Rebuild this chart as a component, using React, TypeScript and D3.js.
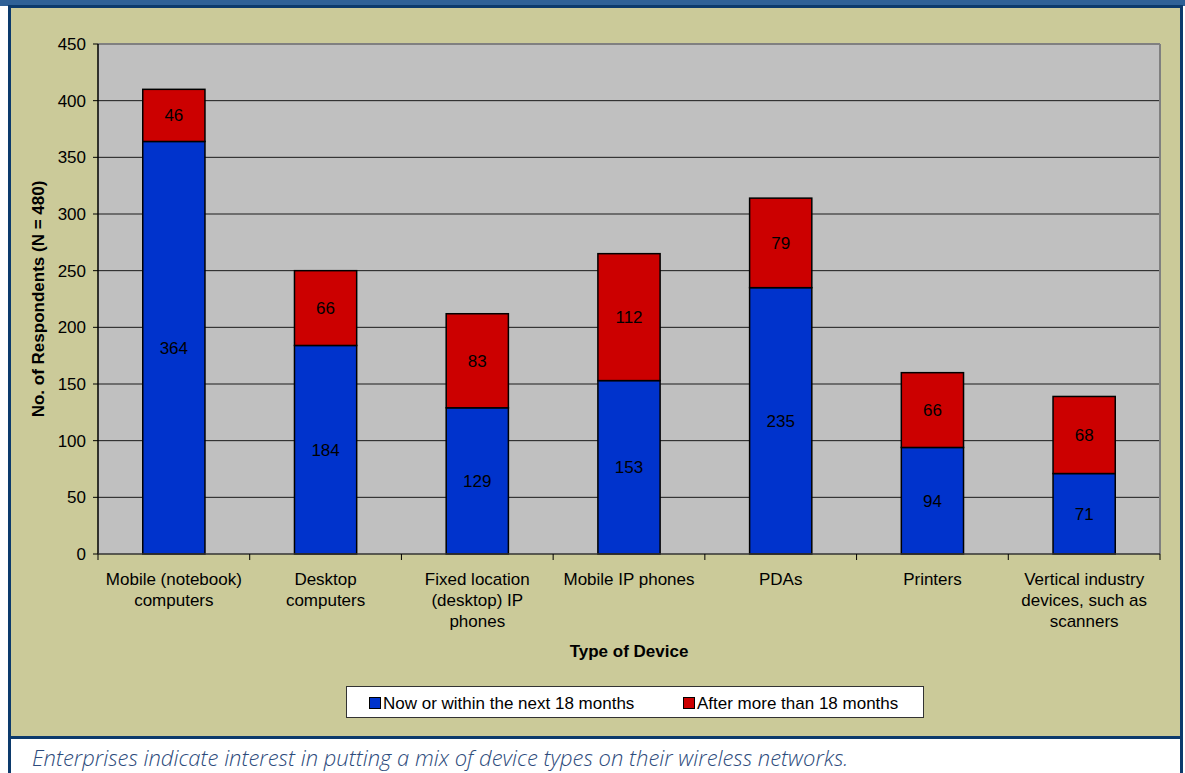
import React from "react";
import * as d3 from "d3";

const categories: string[][] = [
  ["Mobile (notebook)", "computers"],
  ["Desktop", "computers"],
  ["Fixed location", "(desktop) IP", "phones"],
  ["Mobile IP phones"],
  ["PDAs"],
  ["Printers"],
  ["Vertical industry", "devices, such as", "scanners"],
];
const nowValues = [364, 184, 129, 153, 235, 94, 71];
const laterValues = [46, 66, 83, 112, 79, 66, 68];
const seriesNames = ["Now or within the next 18 months", "After more than 18 months"];
const yTicks = [0, 50, 100, 150, 200, 250, 300, 350, 400, 450];

const W = 1185;
const H = 773;
const plot = { left: 98, right: 1160, top: 44, bottom: 554 };
const colors = ["#0033cc", "#cc0000"];
const font = "'Liberation Sans', Arial, sans-serif";
const fs = 17;

export default function App() {
  const idx = categories.map((_, i) => String(i));
  const x = d3.scaleBand<string>().domain(idx).range([plot.left, plot.right]).padding(0);
  const y = d3.scaleLinear().domain([0, 450]).range([plot.bottom, plot.top]);
  const barW = x.step() * 0.41;

  const stacked = d3
    .stack<number>()
    .keys(["now", "later"])
    .value((i, key) => (key === "now" ? nowValues[i] : laterValues[i]))(d3.range(nowValues.length));

  return (
    <svg width={W} height={H} style={{ position: "absolute", left: 0, top: 0 }} fontFamily={font}>
      <rect x={0} y={0} width={W} height={H} fill="#ffffff" />
      {/* header band */}
      <rect x={0} y={0} width={W} height={6} fill="#2f6197" />
      {/* panel */}
      <rect x={9.5} y={6.5} width={1172} height={731} fill="#cbca99" stroke="#0c3a6c" strokeWidth={3} />
      <line x1={9.5} y1={738} x2={9.5} y2={H} stroke="#0c3a6c" strokeWidth={3} />
      <line x1={1181.5} y1={738} x2={1181.5} y2={H} stroke="#0c3a6c" strokeWidth={3} />

      {/* plot area */}
      <rect x={plot.left} y={plot.top} width={plot.right - plot.left} height={plot.bottom - plot.top} fill="#c0c0c0" />
      {yTicks.filter((t) => t > 0 && t < 450).map((t) => (
        <line key={t} x1={plot.left} x2={plot.right} y1={y(t)} y2={y(t)} stroke="#1a1a1a" strokeWidth={1} />
      ))}
      <line x1={plot.left} x2={plot.right} y1={y(450)} y2={y(450)} stroke="#808080" strokeWidth={2} />
      <line x1={plot.right} x2={plot.right} y1={plot.top} y2={plot.bottom} stroke="#808080" strokeWidth={2} />

      {/* bars */}
      {stacked.map((layer, si) =>
        layer.map((seg, i) => {
          const cx = (x(String(i)) as number) + x.step() / 2;
          const y0 = y(seg[0]);
          const y1 = y(seg[1]);
          const v = seg[1] - seg[0];
          return (
            <g key={`${si}-${i}`}>
              <rect x={cx - barW / 2} y={y1} width={barW} height={y0 - y1} fill={colors[si]} stroke="#000" strokeWidth={1.5} />
              <text x={cx} y={(y0 + y1) / 2 + 6} textAnchor="middle" fontSize={fs} fill="#000">
                {v}
              </text>
            </g>
          );
        })
      )}

      {/* axes */}
      <line x1={plot.left} x2={plot.left} y1={plot.top} y2={plot.bottom} stroke="#000" strokeWidth={1.5} />
      <line x1={plot.left} x2={plot.right} y1={plot.bottom} y2={plot.bottom} stroke="#333" strokeWidth={1.5} />
      {yTicks.map((t) => (
        <g key={t}>
          <line x1={plot.left - 5} x2={plot.left} y1={y(t)} y2={y(t)} stroke="#000" />
          <text x={86} y={y(t) + 6} textAnchor="end" fontSize={fs} fill="#000">
            {t}
          </text>
        </g>
      ))}
      {d3.range(categories.length + 1).map((i) => {
        const xx = plot.left + i * x.step();
        return <line key={i} x1={xx} x2={xx} y1={plot.bottom} y2={plot.bottom + 6} stroke="#000" />;
      })}
      {categories.map((lines, i) => {
        const cx = (x(String(i)) as number) + x.step() / 2;
        return (
          <text key={i} textAnchor="middle" fontSize={fs} fill="#000">
            {lines.map((l, j) => (
              <tspan key={j} x={cx} y={585 + j * 21}>
                {l}
              </tspan>
            ))}
          </text>
        );
      })}

      {/* axis titles */}
      <text x={(plot.left + plot.right) / 2} y={657} textAnchor="middle" fontSize={fs} fontWeight="bold" fill="#000">
        Type of Device
      </text>
      <text
        transform={`translate(44, ${(plot.top + plot.bottom) / 2}) rotate(-90)`}
        textAnchor="middle"
        fontSize={fs}
        fontWeight="bold"
        fill="#000"
      >
        No. of Respondents (N = 480)
      </text>

      {/* legend */}
      <rect x={346.5} y={686.5} width={577} height={31} fill="#ffffff" stroke="#333" strokeWidth={1} />
      {seriesNames.map((name, i) => {
        const lx = i === 0 ? 369 : 683;
        return (
          <g key={name}>
            <rect x={lx + 0.5} y={697.5} width={11} height={11} fill={colors[i]} stroke="#000" strokeWidth={1} />
            <text x={lx + 14} y={709} fontSize={fs} fill="#000">
              {name}
            </text>
          </g>
        );
      })}

      {/* caption */}
      <text x={32} y={766} fontSize={22} fontStyle="italic" fill="#2d4b7c" fontFamily="'Open Sans', sans-serif" fontWeight={300}>
        Enterprises indicate interest in putting a mix of device types on their wireless networks.
      </text>
    </svg>
  );
}
